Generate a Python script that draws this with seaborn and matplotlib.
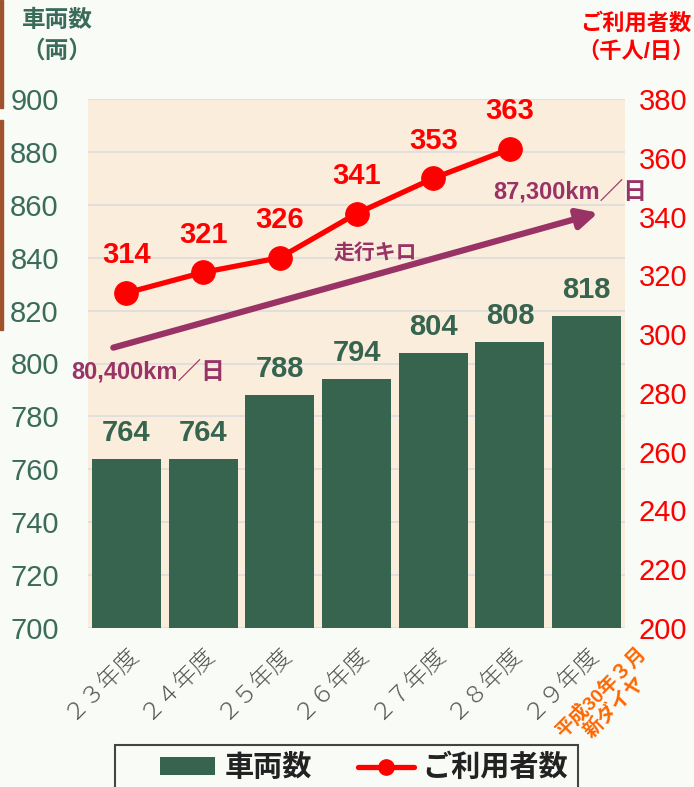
import numpy as np
import pandas as pd
import seaborn as sns
import matplotlib.pyplot as plt
from matplotlib.lines import Line2D
from matplotlib.patches import Patch, Rectangle

years = ['２３年度', '２４年度', '２５年度', '２６年度', '２７年度', '２８年度', '２９年度']
cars = [764, 764, 788, 794, 804, 808, 818]
users = [314, 321, 326, 341, 353, 363]
km_start = '80,400km／日'
km_end = '87,300km／日'

green = '#36644f'
red = '#ff0000'
purple = '#993366'
sns.set_theme(style='white')
plt.rcParams['font.family'] = ['Liberation Sans', 'Noto Sans CJK JP']

fig = plt.figure(figsize=(6.94, 7.87), dpi=100, facecolor='#f8fbf6')
ax = fig.add_axes([88/694, 1-628/787, 537/694, 529/787])
ax.set_facecolor('#faeddc')

df = pd.DataFrame({'year': years, 'cars': cars})
sns.barplot(data=df, x='year', y='cars', color=green, saturation=1, width=0.9, ax=ax)
for p in ax.patches:
    p.set_edgecolor('none')
ax.set_ylim(700, 900)
ax.set_xlim(-0.5, 6.5)
ax.set_yticks(np.arange(700, 901, 20))
ax.yaxis.grid(True, color='#dcdcdc', lw=1.2)
ax.set_axisbelow(True)
ax.set_xlabel('')
ax.set_ylabel('')
for s in ax.spines.values():
    s.set_visible(False)
ax.tick_params(axis='y', labelsize=21, labelcolor='#3b6b5b', length=0, pad=21)
ax.tick_params(axis='x', length=0, pad=10)
ax.set_xticks(range(len(years)))
ax.set_xticklabels(years, rotation=45, ha='right', va='top', rotation_mode='anchor',
                   fontsize=17, color='#555555', fontweight='light')
for i, v in enumerate(cars):
    ax.text(i, v + 4.5, str(v), ha='center', va='bottom', fontsize=21, fontweight='bold', color=green)

ax2 = ax.twinx()
sns.lineplot(x=list(range(len(users))), y=users, ax=ax2, color=red, lw=3.8,
             marker='o', markersize=17, markeredgecolor=red)
ax2.set_ylim(200, 380)
ax2.set_yticks(np.arange(200, 381, 20))
for s in ax2.spines.values():
    s.set_visible(False)
ax2.tick_params(axis='y', labelsize=21, labelcolor=red, length=0, pad=10)
for i, v in enumerate(users):
    ax2.text(i, v + 8, str(v), ha='center', va='bottom', fontsize=21, fontweight='bold', color=red)

# running km arrow
ax.annotate('', xy=(6.15, 857), xytext=(-0.17, 806),
            arrowprops=dict(arrowstyle='-|>,head_length=1.0,head_width=0.5', color=purple,
                            lw=4.5, capstyle='round', shrinkA=0, shrinkB=0))
ax.text(3.25, 842, '走行キロ', ha='center', va='center', fontsize=15, fontweight='bold', color=purple)
ax.text(0.29, 797, km_start, ha='center', va='center', fontsize=17, fontweight='bold', color=purple)
ax.text(5.78, 865, km_end, ha='center', va='center', fontsize=17, fontweight='bold', color=purple)

ax.text(6.27, 673, '平成30年３月\n新ダイヤ', rotation=45, ha='center', va='center', fontsize=14,
        fontweight='bold', color='#ff6600', linespacing=1.1, transform=ax.transData, clip_on=False)

fig.text(57/694, 1-36/787, '車両数\n（両）', ha='center', va='center', fontsize=17,
         fontweight='bold', color='#3b6b5b', linespacing=1.4)
fig.text(636/694, 1-38/787, 'ご利用者数\n（千人/日）', ha='center', va='center', fontsize=16,
         fontweight='bold', color=red, linespacing=1.4)

fig.patches.append(Rectangle((0, 1-108/787), 3/694, 108/787, transform=fig.transFigure,
                             color='#a0522d', zorder=0))
fig.patches.append(Rectangle((0, 1-330/787), 3/694, 210/787, transform=fig.transFigure,
                             color='#a0522d', zorder=0))

# legend box drawn by hand, it runs off the bottom of the picture
fig.patches.append(Rectangle((115/694, -0.05), 463/694, 0.05 + 42/787, transform=fig.transFigure,
                             facecolor='#f8fbf6', edgecolor='#444444', lw=1.5, zorder=1))
handles = [Patch(facecolor=green, edgecolor='none', label='車両数'),
           Line2D([0], [0], color=red, lw=3.8, marker='o', markersize=11, label='ご利用者数')]
leg = fig.legend(handles=handles, loc='center', bbox_to_anchor=(364/694, 1-768/787),
                 ncol=2, fontsize=21, frameon=False, handlelength=1.9, handleheight=0.55,
                 handletextpad=0.3, columnspacing=1.6, borderpad=0, borderaxespad=0)
for t in leg.get_texts():
    t.set_fontweight('bold')
    t.set_color('#222222')

fig.savefig('out.png', dpi=100, facecolor=fig.get_facecolor())
